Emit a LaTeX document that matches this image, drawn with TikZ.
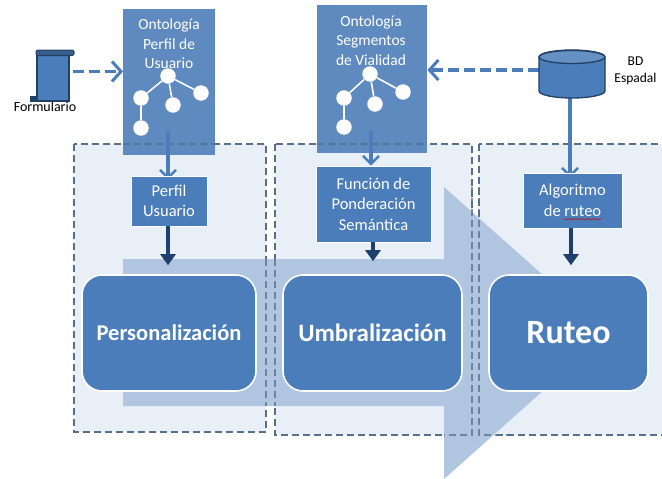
\documentclass[tikz,border=0pt]{standalone}
\usepackage{fontspec}
\setmainfont{Carlito}
\usetikzlibrary{arrows.meta}
\pgfdeclarelayer{back}
\pgfsetlayers{back,main}
\definecolor{panelfill}{HTML}{E9EFF7}
\definecolor{dashc}{HTML}{566F8C}
\definecolor{bigarrow}{HTML}{AFC5E0}
\definecolor{onto}{HTML}{5F8AC0}
\definecolor{boxc}{HTML}{4A7DBA}
\definecolor{darkar}{HTML}{1F3F6E}
\definecolor{darkedge}{HTML}{223F66}
\definecolor{midar}{HTML}{4A7DBA}
\tikzset{
  panel/.style={draw=dashc,fill=panelfill,dash pattern=on 7pt off 4pt,line width=1.1pt},
  sepline/.style={draw=dashc,dash pattern=on 7pt off 4pt,line width=1.1pt,opacity=.75},
  ontobox/.style={fill=onto,draw=none},
  stepbox/.style={fill=boxc,draw=white,line width=.6pt,text=white,align=center,font=\fontsize{16.5}{20.5}\selectfont,inner sep=0pt},
  ontotext/.style={text=white,align=center,font=\fontsize{15.5}{19.5}\selectfont,inner sep=0pt},
  stage/.style={fill=boxc,draw=white,line width=1.6pt,rounded corners=20pt,text=white},
  treenode/.style={circle,fill=white,draw=none,minimum size=15.5pt,inner sep=0pt},
  treeedge/.style={draw=white,line width=1.6pt},
  feedar/.style={draw=midar,line width=3.2pt,-{Straight Barb[length=8pt,width=16pt,line width=2.5pt]}},
  dashar/.style={draw=midar,line width=3.2pt,dash pattern=on 11pt off 5pt,-{Straight Barb[length=9pt,width=20pt,line width=3pt]}},
  darkarrow/.style={draw=darkar,line width=3.6pt,-{Triangle[length=11pt,width=15pt]},shorten >=9pt},
  lbl/.style={text=black,align=center,inner sep=0pt}
}
\begin{document}
\begin{tikzpicture}[x=1pt,y=-1pt]
\useasboundingbox (0,0) rectangle (662,479);
% step boxes
\node[stepbox,minimum width=76pt,minimum height=50pt] (perfil) at (169,201) {Perfil\\Usuario};
\node[stepbox,minimum width=115pt,minimum height=76pt] (funcion) at (373.5,204) {Función de\\Ponderación\\Semántica};
\node[stepbox,minimum width=99pt,minimum height=55pt] (algo) at (572.5,200.5) {Algoritmo\\de ruteo};
% stages
\node[stage,minimum width=174pt,minimum height=116pt,font=\fontsize{22.5}{26}\selectfont\bfseries] (pers) at (169,333) {Personalización};
\node[stage,minimum width=179pt,minimum height=116pt,font=\fontsize{25}{28}\selectfont\bfseries] (umb) at (372.5,333) {Umbralización};
\node[stage,minimum width=159pt,minimum height=116pt,font=\fontsize{34}{38}\selectfont\bfseries] (rut) at (568.5,333) {Ruteo};
% label under the scroll, scroll icon
\node[lbl,font=\fontsize{14}{16}\selectfont] (form) at (45,106.5) {Formulario};
\coordinate (scrollR) at (73,71.5);
\draw[darkedge,line width=1.8pt,fill=boxc] (37,54) -- (69,54) -- (69,101) -- (37,101) -- cycle;
\draw[darkedge,line width=1pt,fill=boxc!75!black,rounded corners=2pt] (36,50) rectangle (74,55.5);
\fill[darkedge] (30,96) rectangle (38,102);
% cylinder
\coordinate (bdW) at (539,70);
\coordinate (bdS) at (572,98);
\draw[darkedge,line width=1.3pt,fill=boxc] (539,57) -- (539,91) arc[start angle=180,end angle=0,x radius=33,y radius=7] -- (605,57) arc[start angle=0,end angle=-180,x radius=33,y radius=7] -- cycle;
\draw[darkedge,line width=1.3pt,fill=boxc!85!white] (572,57) ellipse[x radius=33,y radius=6.5];
\node[lbl,font=\fontsize{13.5}{17}\selectfont] (bdt) at (635.5,70.5) {BD\\Espadal};
% dark arrows
\draw[darkarrow] (perfil.south -| 168,0) -- (pers.north -| 168,0);
\draw[darkarrow,shorten >=13pt] (funcion.south -| 373,0) -- (umb.north -| 373,0);
\draw[darkarrow] (algo.south -| 571,0) -- (rut.north -| 571,0);
% spell-check squiggle
\draw[red!80!black,line width=.6pt] (564,218.5) -- (567,220) -- (570,218.5) -- (573,220) -- (576,218.5) -- (579,220) -- (582,218.5) -- (585,220) -- (588,218.5) -- (591,220) -- (594,218.5) -- (597,220) -- (601,218.5);
\begin{pgfonlayer}{back}
% panels
\path[panel] (74,144) rectangle (266,432);
\path[panel] (275,144) rectangle (472,435);
\path[panel] (479,144) rectangle (668,435);
% big arrow
\fill[bigarrow] (123,259) -- (444,259) -- (444,187) -- (608,333) -- (444,479) -- (444,406) -- (123,406) -- cycle;
% separators seen through the arrow
\draw[sepline] (266,259) -- (266,406) (275,259) -- (275,406) (472,187) -- (472,435) -- (444,435) (479,187) -- (479,435) -- (510,435);
% ontology boxes
\node[ontobox,minimum width=92pt,minimum height=146pt,anchor=north west] (ontoA) at (123,9) {};
\node[ontobox,minimum width=110pt,minimum height=148pt,anchor=north west] (ontoB) at (317,5) {};
\draw[sepline] (123,144) -- (215,144) (317,144) -- (427,144);
\node[ontotext] (ontoAt) at (169,44) {Ontología\\Perfil de\\Usuario};
\node[ontotext] (ontoBt) at (371,40.5) {Ontología\\Segmentos\\de Vialidad};
% tree A
\node[treenode] (a0) at (168,76) {};
\node[treenode] (a1) at (141,98) {};
\node[treenode] (a2) at (173,105) {};
\node[treenode] (a3) at (201,93) {};
\node[treenode] (a4) at (141,128) {};
\draw[treeedge] (a0)--(a1) (a0)--(a2) (a0)--(a3) (a1)--(a4);
% tree B
\node[treenode] (b0) at (370,74) {};
\node[treenode] (b1) at (344,98) {};
\node[treenode] (b2) at (375,104) {};
\node[treenode] (b3) at (403,92) {};
\node[treenode] (b4) at (344,127) {};
\draw[treeedge] (b0)--(b1) (b0)--(b2) (b0)--(b3) (b1)--(b4);
% connectors
\draw[dashar] (scrollR) -- (ontoA.west |- scrollR);
\draw[dashar] (bdW) -- (ontoB.east |- bdW);
\draw[feedar,shorten >=-4pt] (168,131) -- (perfil.north -| 168,0);
\draw[feedar] (371,131) -- (funcion.north -| 371,0);
\draw[feedar,shorten >=-5pt] (bdS -| 570,0) -- (algo.north -| 570,0);
\end{pgfonlayer}
\end{tikzpicture}
\end{document}
